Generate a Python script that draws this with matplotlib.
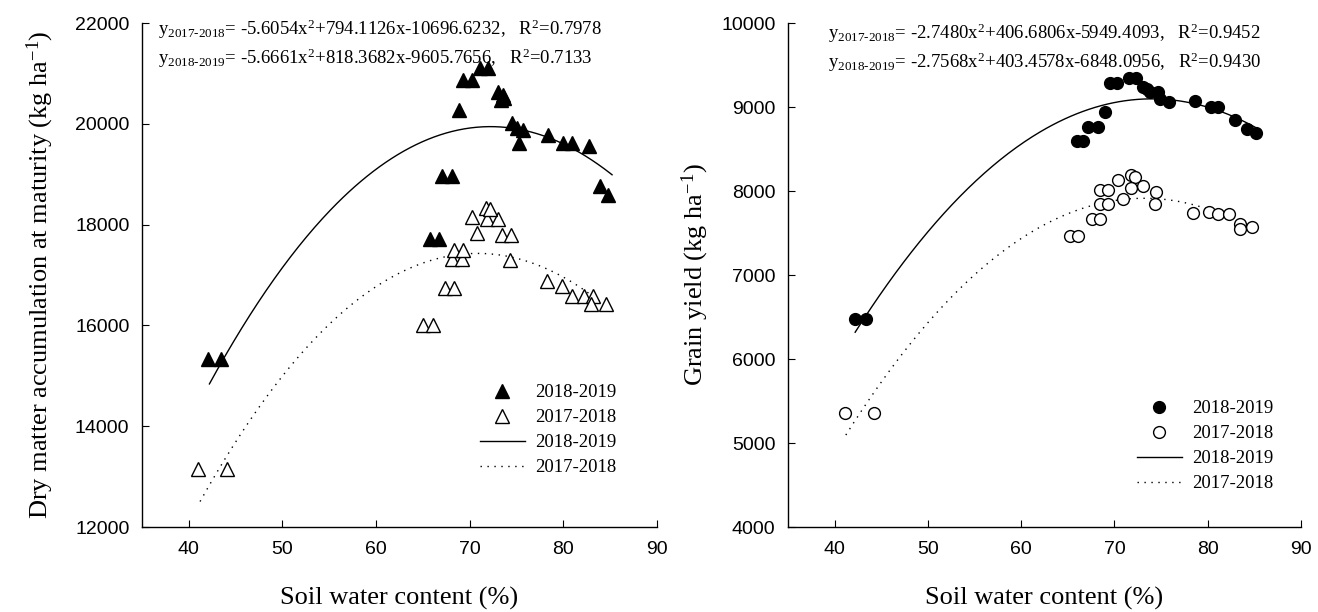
import numpy as np
import matplotlib
matplotlib.use("Agg")
import matplotlib.pyplot as plt
from matplotlib.lines import Line2D

plt.rcParams['mathtext.fontset'] = 'custom'
plt.rcParams['mathtext.rm'] = 'Liberation Serif'
plt.rcParams['mathtext.it'] = 'Liberation Serif:italic'

# ---------------- data ----------------
x_ticks = [40, 50, 60, 70, 80, 90]
dm_yticks = [12000, 14000, 16000, 18000, 20000, 22000]
gy_yticks = [4000, 5000, 6000, 7000, 8000, 9000, 10000]

# Dry matter accumulation, 2018-2019 (filled triangles)
dm19_x = [42.1, 43.4, 65.8, 66.7, 67.0, 68.1, 68.9, 69.3, 70.2, 71.1, 72.0,
          73.0, 73.5, 73.3, 73.7, 74.5, 75.0, 75.7, 75.3, 78.4, 80.0, 80.9,
          82.7, 83.9, 84.8]
dm19_y = [15330, 15330, 17720, 17720, 18960, 18960, 20280, 20870, 20870,
          21100, 21100, 20640, 20580, 20480, 20520, 20010, 19910, 19880,
          19620, 19780, 19620, 19620, 19550, 18760, 18590]
# Dry matter accumulation, 2017-2018 (open triangles)
dm18_x = [41.0, 44.1, 65.0, 66.1, 67.4, 68.3, 68.1, 69.2, 68.3, 69.3, 74.3,
          70.8, 73.4, 74.4, 70.2, 71.8, 73.0, 71.7, 72.2, 78.3, 79.9, 80.9,
          82.2, 83.2, 83.0, 84.5]
dm18_y = [13150, 13150, 16000, 16000, 16750, 16750, 17320, 17320, 17500,
          17500, 17290, 17840, 17800, 17800, 18160, 18110, 18110, 18330,
          18310, 16890, 16790, 16580, 16580, 16580, 16420, 16420]

# Grain yield, 2018-2019 (filled circles)
gy19_x = [42.2, 43.4, 66.0, 66.6, 67.2, 68.2, 69.0, 69.5, 70.3, 71.6, 72.3,
          73.1, 73.5, 73.8, 74.7, 74.9, 75.8, 78.6, 80.4, 81.1, 82.9, 84.2,
          85.2]
gy19_y = [6480, 6480, 8590, 8590, 8760, 8760, 8935, 9280, 9290, 9340, 9340,
          9240, 9220, 9180, 9180, 9100, 9060, 9070, 9000, 9000, 8840, 8740,
          8690]
# Grain yield, 2017-2018 (open circles)
gy18_x = [41.1, 44.2, 65.2, 66.1, 67.6, 68.4, 68.4, 69.3, 68.4, 69.3, 70.4,
          70.9, 71.8, 72.2, 71.8, 73.1, 74.5, 74.4, 78.4, 80.1, 81.1, 82.3,
          83.5, 84.7, 83.5]
gy18_y = [5360, 5360, 7470, 7470, 7670, 7670, 7850, 7850, 8010, 8010, 8130,
          7910, 8190, 8170, 8040, 8060, 7990, 7840, 7740, 7750, 7730, 7730,
          7610, 7570, 7550]

# Fitted quadratic equations printed on the chart (a, b, c) and R^2
dm_coef_1718 = [-5.6054, 794.1126, -10696.6232]
dm_r2_1718 = 0.7978
dm_coef_1819 = [-5.6661, 818.3682, -9605.7656]
dm_r2_1819 = 0.7133
gy_coef_1718 = [-2.7480, 406.6806, -5949.4093]
gy_r2_1718 = 0.9452
gy_coef_1819 = [-2.7568, 403.4578, -6848.0956]
gy_r2_1819 = 0.9430

# x extent of fitted curves
fit_solid_range = [42.2, 85.2]
fit_dotted_range = [41.2, 85.0]

# ---------------- figure ----------------
W, H = 1318, 612
fig = plt.figure(figsize=(W / 100, H / 100), dpi=100)
ax1 = fig.add_axes([142 / W, 1 - 527 / H, 515 / W, 504 / H])
ax2 = fig.add_axes([788 / W, 1 - 527 / H, 513 / W, 504 / H])

SERIF = 'Liberation Serif'
SANS = 'Liberation Sans'
DOT = (0, (1, 4))


def eq_text(label, coef, r2):
    a, b, c = coef
    return (r"y$_{\mathregular{" + label.replace('-', r'\text{-}') + r"}}$"
            + f"= {a:.4f}x" + r"$^{\mathregular{2}}$"
            + f"{b:+.4f}x{c:+.4f},   R" + r"$^{\mathregular{2}}$" + f"={r2:.4f}")


def style_axes(ax, yticks, ylabel, ylabelpad):
    ax.set_xlim(35, 90)
    ax.set_ylim(yticks[0], yticks[-1])
    ax.set_xticks(x_ticks)
    ax.set_yticks(yticks)
    for s in ('top', 'right'):
        ax.spines[s].set_visible(False)
    for s in ('left', 'bottom'):
        ax.spines[s].set_linewidth(1.0)
    ax.tick_params(direction='in', length=5, width=0.8, pad=9)
    ax.tick_params(axis='x', pad=10)
    for lab in ax.get_xticklabels() + ax.get_yticklabels():
        lab.set_fontfamily(SANS)
        lab.set_fontsize(14)
    ax.set_xlabel('Soil water content (%)', fontfamily=SERIF, fontsize=19,
                  labelpad=21)
    ax.set_ylabel(ylabel, fontfamily=SERIF, fontsize=19, labelpad=ylabelpad)


# ----- left panel -----
xs = np.linspace(*fit_solid_range, 200)
xd = np.linspace(*fit_dotted_range, 200)
ax1.plot(xs, np.polyval(dm_coef_1819, xs), color='black', lw=1.0)
ax1.plot(xd, np.polyval(dm_coef_1718, xd), color='black', lw=1.0, ls=DOT)
ax1.plot(dm19_x, dm19_y, ls='none', marker='^', ms=10, mfc='black',
         mec='black', mew=1.0)
ax1.plot(dm18_x, dm18_y, ls='none', marker='^', ms=10, mfc='white',
         mec='black', mew=1.0)
style_axes(ax1, dm_yticks,
           r'Dry matter accumulation at maturity (kg ha$^{\mathregular{-1}}$)', 14)
ax1.text(16 / 515, 1 - 6 / 504, eq_text('2017-2018', dm_coef_1718, dm_r2_1718),
         transform=ax1.transAxes, fontfamily=SERIF, fontsize=13.5, va='center')
ax1.text(16 / 515, 1 - 35 / 504, eq_text('2018-2019', dm_coef_1819, dm_r2_1819),
         transform=ax1.transAxes, fontfamily=SERIF, fontsize=13.5, va='center')

# ----- right panel -----
ax2.plot(xs, np.polyval(gy_coef_1718, xs), color='black', lw=1.0)
ax2.plot(xd, np.polyval(gy_coef_1819, xd), color='black', lw=1.0, ls=DOT)
ax2.plot(gy19_x, gy19_y, ls='none', marker='o', ms=8.5, mfc='black',
         mec='black', mew=1.0)
ax2.plot(gy18_x, gy18_y, ls='none', marker='o', ms=8.5, mfc='white',
         mec='black', mew=1.0)
style_axes(ax2, gy_yticks, r'Grain yield (kg ha$^{\mathregular{-1}}$)', 7)
ax2.text(40 / 513, 1 - 10 / 504, eq_text('2017-2018', gy_coef_1718, gy_r2_1718),
         transform=ax2.transAxes, fontfamily=SERIF, fontsize=13.5, va='center')
ax2.text(40 / 513, 1 - 39 / 504, eq_text('2018-2019', gy_coef_1819, gy_r2_1819),
         transform=ax2.transAxes, fontfamily=SERIF, fontsize=13.5, va='center')


def add_legend(ax, marker, ms, anchor):
    handles = [
        Line2D([], [], ls='none', marker=marker, ms=ms, mfc='black', mec='black'),
        Line2D([], [], ls='none', marker=marker, ms=ms, mfc='white', mec='black'),
        Line2D([], [], color='black', lw=1.0),
        Line2D([], [], color='black', lw=1.0, ls=DOT),
    ]
    labels = ['2018-2019', '2017-2018', '2018-2019', '2017-2018']
    ax.legend(handles, labels, loc='upper left', bbox_to_anchor=anchor,
              frameon=False, prop={'family': SERIF, 'size': 13.5},
              handlelength=2.4, handletextpad=0.55, labelspacing=0.42,
              borderaxespad=0, borderpad=0)


add_legend(ax1, '^', 10, (0.656, 0.283))
add_legend(ax2, 'o', 8.5, (0.680, 0.252))

fig.savefig('out.png', dpi=100)
